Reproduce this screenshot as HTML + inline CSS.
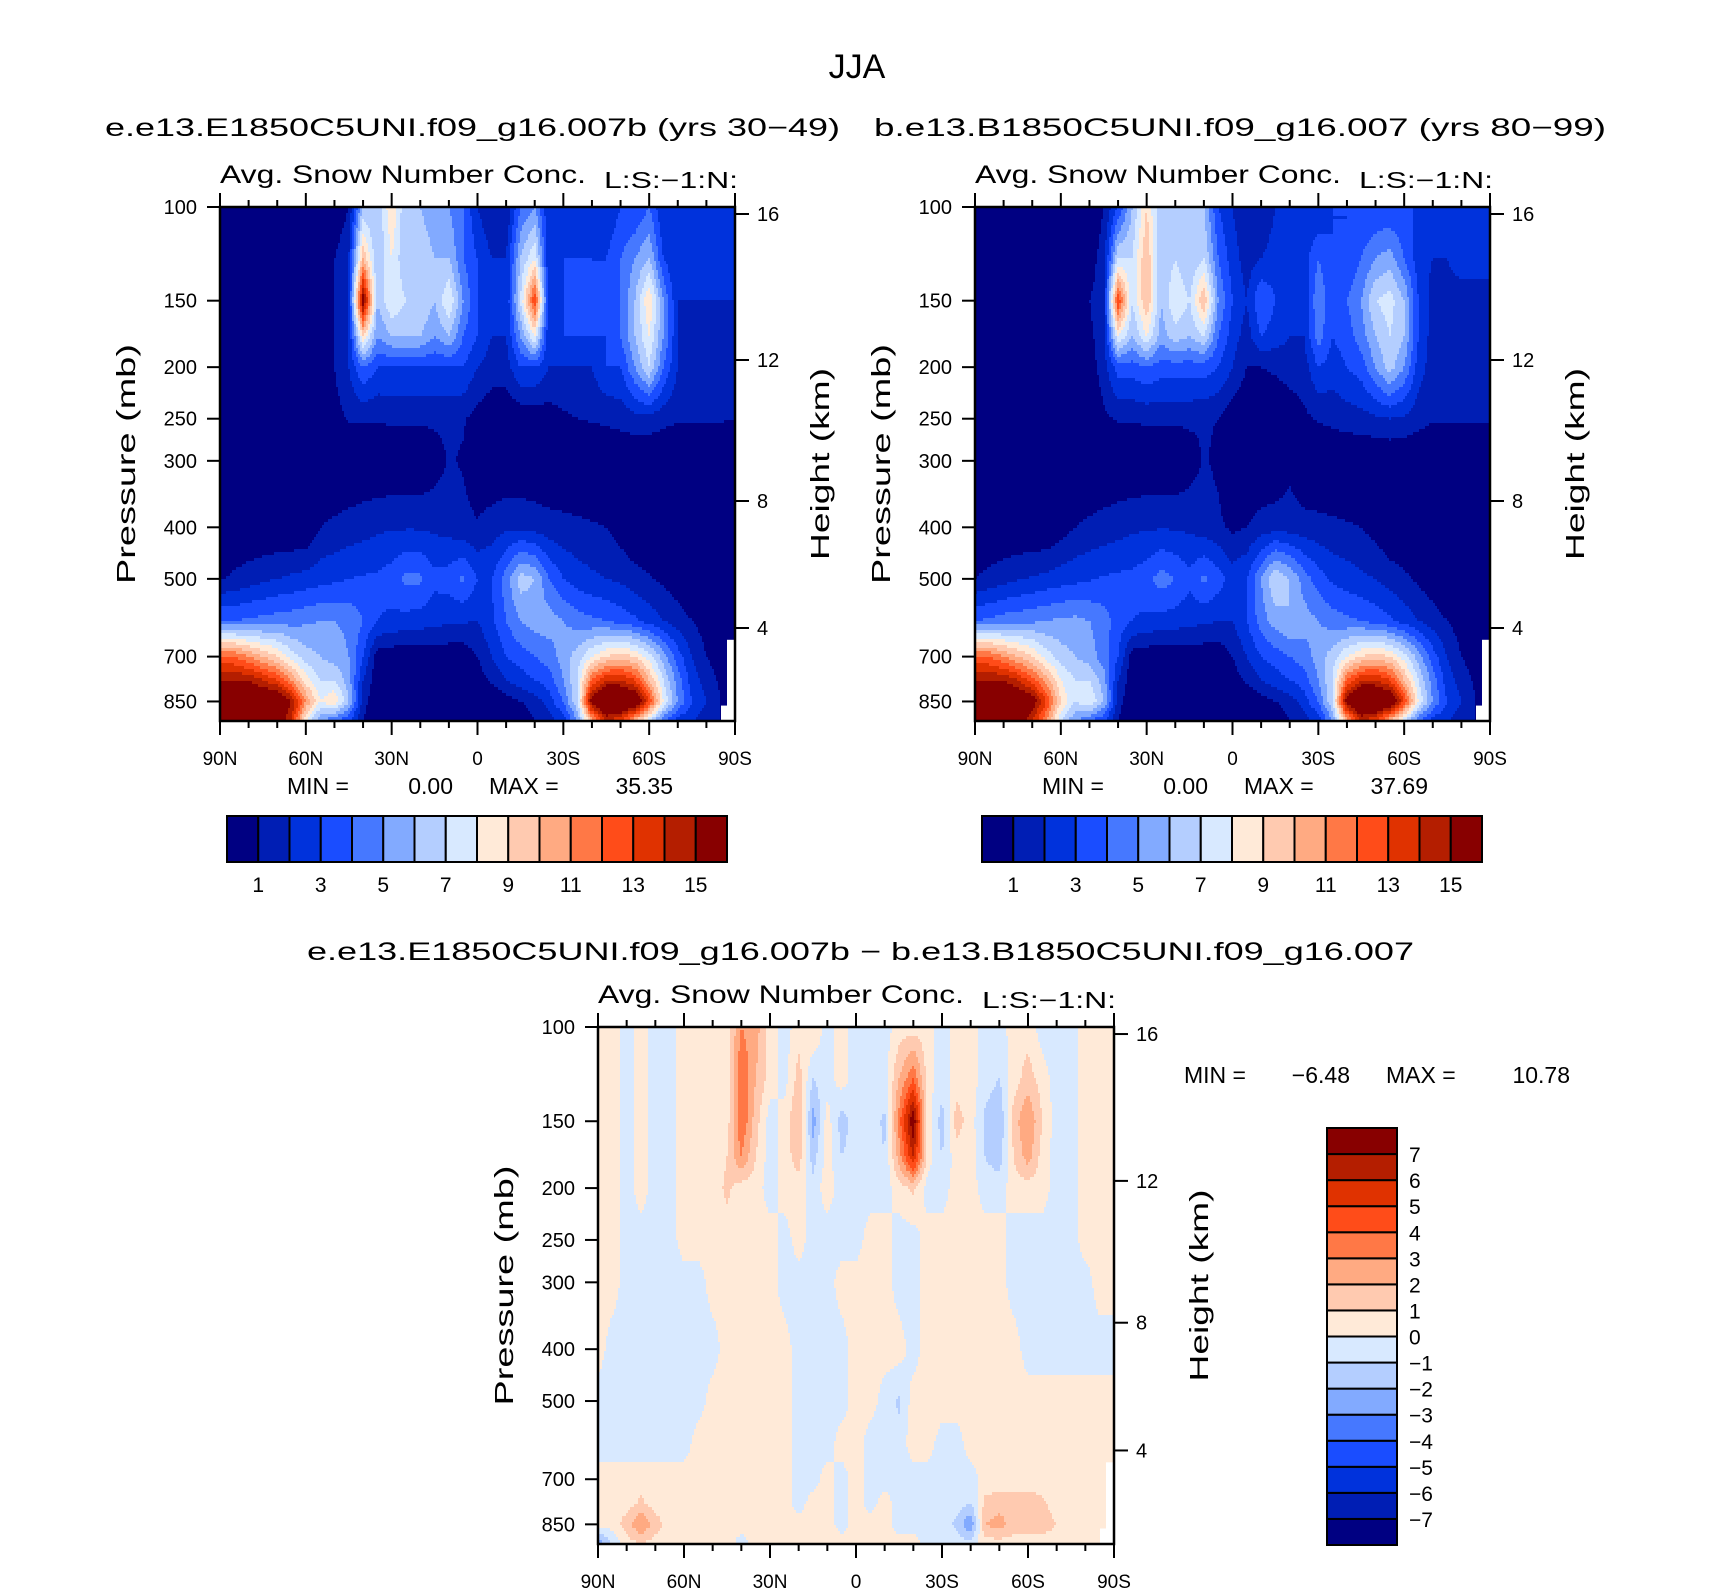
<!DOCTYPE html>
<html>
<head>
<meta charset="utf-8">
<style>
html,body{margin:0;padding:0;background:#fff;}
svg{display:block;}
text{font-family:"Liberation Sans",sans-serif;fill:#000;}
</style>
</head>
<body>
<svg id="fig" xmlns="http://www.w3.org/2000/svg" width="1710" height="1590" viewBox="0 0 1710 1590">
  <rect x="0" y="0" width="1710" height="1590" fill="#fff"/>
  <text x="857" y="78" font-size="34" text-anchor="middle">JJA</text>
  <text x="105" y="136" font-size="25" textLength="735" lengthAdjust="spacingAndGlyphs">e.e13.E1850C5UNI.f09_g16.007b (yrs 30−49)</text>
  <text x="874" y="136" font-size="25" textLength="732" lengthAdjust="spacingAndGlyphs">b.e13.B1850C5UNI.f09_g16.007 (yrs 80−99)</text>
  <text x="307" y="960" font-size="25" textLength="1107" lengthAdjust="spacingAndGlyphs">e.e13.E1850C5UNI.f09_g16.007b − b.e13.B1850C5UNI.f09_g16.007</text>
  <g id="layer"></g>
</svg>
<script>
// ---------- data ----------
const levels = [100,125,150,175,200,250,300,400,500,600,700,775,850,925];
const latLabels = ["90N","60N","30N","0","30S","60S","90S"];
const pressureTicks = [100,150,200,250,300,400,500,700,850];
const heightTicks = [16,12,8,4];
const palette = ["#000082","#001eb4","#0032dc","#1a4dff","#4678ff","#82aaff","#b4ceff","#d8e9ff","#ffead8","#ffcab0","#ffaa82","#ff7846","#ff4c19","#e03200","#b41e00","#880000"];
const topBarLabels = [1,3,5,7,9,11,13,15];
const diffBarLabels = [7,6,5,4,3,2,1,0,-1,-2,-3,-4,-5,-6,-7];

// fields: rows = levels, columns = latitude 90N..90S every 5 degrees
const leftField = [
 [0,0,0,0,0,0,0,0,0,1,6,6,9,6,6,5,5,4,2,1,1,4,5,2,2,2,2,2,3,3,4,2,2,2.5,3,3,3],
 [0,0,0,0,0,0,0,0,1,2,10,6,8,6,7,6,6,4,3,2,2,6,8,2,3,3,3,3,4,5,6,3,2,2,2.5,2.5,2.5],
 [0,0,0,0,0,0,0,0,1,2,16,6,8,7,7,6,8,5,3,2,2,7,13,2,3,4,3,3,4,6,9,5,2,2,2,2,2],
 [0,0,0,0,0,0,0,0,1,2,9,5,6,6,6,5,6,4,3,2,2,5,8,2,3,3,3,3,4,6,8,5,2,1.5,1.5,1.5,1.5],
 [0,0,0,0,0,0,0,0.5,1,2,4,3,3,3,3,3,3,3,2,1.5,1.5,3,3,2,2,2,2,3,3,5,7,4,2,1,1,1,1],
 [0,0,0,0,0,0,0,0,0.6,1.1,1.1,1.1,1.2,1.2,1.2,1.2,1.2,1.1,0.6,0.3,0.2,0.2,0.3,0.5,0.8,1,1.1,1.2,1.4,1.6,1.6,1.3,1.1,1.1,1.1,1.1,1],
 [0,0,0,0,0,0,0,0,0,0,0,0,0,0,0,0.5,1.1,0.9,0.3,0,0,0,0,0,0,0,0,0,0,0,0,0,0,0,0,0,0],
 [0,0,0,0,0,0,0,1,1.2,1.4,1.6,1.8,1.9,1.9,1.9,1.8,1.6,1.3,1.1,1.5,1.8,1.8,1.6,1.4,1.3,1.2,1.1,1,0.5,0,0,0,0,0,0,0,0],
 [0.9,1.2,1.5,1.8,2,2.2,2.4,2.6,2.8,3,3.1,3.2,3.5,4.3,4.2,3.3,3.5,4.2,3,3,4.5,6.5,6,4,3,2.5,2.2,2,1.8,1.4,1.1,0.8,0.4,0,0,0,0],
 [4,4,4.2,4.3,4.5,4.6,4.8,5,5,4.8,4,3,2.8,2.6,2.5,2.3,2.2,2.1,2,2.8,4,5,5.5,5.5,5,4.5,4.2,4,3.6,3.2,2.6,2,1.5,1,0.5,0.2,0],
 [12,12,11,10,9,7.5,6.5,6,5.5,5,3,0.5,0.3,0.3,0.3,0.3,0.3,0.3,1,2,3,3.5,4,4.5,5.5,6.5,8,9,9.5,9,7.5,5.5,3.5,2,1,0.5,0.5],
 [15,15,15,14,13,11,8.5,7,7,5.5,2,0.3,0.2,0.2,0.2,0.2,0.2,0.2,0.5,1.2,2,2.5,3,3.5,5,7,12,14,14,13,10,7,4.5,2.5,1.5,0.8,0.5],
 [17,17,17,17,17,15,11,8,9,6,1.5,0,0,0,0,0,0,0,0,0,0.5,1,1.5,2.5,4,7,16,18,18,17,13,8,5,3,2,1,0.5],
 [17,17,17,17,16,14,8,5,4,3,1,0,0,0,0,0,0,0,0,0,0,0,1,1.5,2.5,5,10,14,13,10,7,4,2.5,2,1.5,1,0.5]
];
const rightField = [
 [0,0,0,0,0,0,0,0,0,1,3,6,9,6,6,6,6,3,2,1,1,2,2,2,2,3,3,3,3,3,3,3,2.5,3,3,3,3],
 [0,0,0,0,0,0,0,0,0.5,1.5,7,7,10,6,7,6,7,4,2.5,1.5,2,2.5,2.5,2.5,4,3,3,4,5,5.5,4,2.5,2,2,2.5,2.5,2.5],
 [0,0,0,0,0,0,0,0,1,1.5,13,7,10,6,8,7,10,5,3,2,4,3,2,2,5,3,4,5,7,7.5,6,3,1.5,1.5,1.5,1.5,1.5],
 [0,0,0,0,0,0,0,0,0.8,1.5,8,6,8,5.5,6.5,6,7,4,2.5,1.5,3,2.5,2,2,4.5,3,3.5,4.5,6,7,6,3,1.5,1.5,1.5,1.5,1.5],
 [0,0,0,0,0,0,0,0,0.5,1.5,3.5,3.5,4,3.5,3.5,3.5,3.5,3,2,1,1,1.2,1.5,1.5,3,2.5,3,3.5,5,6.5,5,2.5,1.5,1.2,1.2,1.2,1.2],
 [0,0,0,0,0,0,0,0,0,0.8,1.1,1.1,1.2,1.2,1.2,1.2,1.1,1,0.4,0.1,0,0,0.3,0.8,1.1,1.3,1.5,1.6,1.8,2,1.8,1.4,1.1,1.1,1.1,1.1,1.1],
 [0,0,0,0,0,0,0,0,0,0,0,0,0,0,0,0.5,1.1,0.8,0,0,0,0,0.7,0,0,0,0,0,0,0,0,0,0,0,0,0,0],
 [0,0,0,0,0,0,0.5,1,1.2,1.4,1.6,1.8,1.9,1.9,1.9,1.8,1.5,1.2,0.8,1,1.4,1.6,1.5,1.4,1.3,1.2,1.1,1,0.6,0,0,0,0,0,0,0,0],
 [1,1.3,1.6,1.9,2.1,2.3,2.5,2.7,2.9,3.1,3.2,3.3,3.6,4.5,4,3.3,4.2,3.5,2.5,3,5,7,6,4.5,3.5,2.8,2.5,2.2,2,1.6,1.2,0.8,0.4,0,0,0,0],
 [4,4.2,4.5,4.6,4.8,5,5.2,5.3,5,4.5,3.5,3,2.8,2.6,2.5,2.3,2.2,2,2,3,4.5,5.5,6,5.5,5,4.5,4.2,4,3.6,3.2,2.6,2,1.5,1,0.5,0.2,0],
 [12,12,11,10,9,7.5,6.5,6,5.5,4.5,3,0.5,0.3,0.3,0.3,0.3,0.3,0.3,1,2,3,3.5,4,4.5,5.5,6.5,8,9,9.5,9,7.5,5.5,3.5,2,1,0.5,0.5],
 [15,15,15,14,12.5,10.5,8,7,7,5.5,2,0.3,0.2,0.2,0.2,0.2,0.2,0.2,0.5,1.2,2,2.5,3,3.5,5,7,12,14,14,13,10,7,4.5,2.5,1.5,0.8,0.5],
 [17,17,17,17,16,13,9,7,8,6,1.5,0,0,0,0,0,0,0,0,0,0.5,1,1.5,2.5,4,7,16,18,18,17,13,8,5,3,2,1,0.5],
 [17,17,17,16,14,11,7,5,4,3,1,0,0,0,0,0,0,0,0,0,0,0,1,1.5,2.5,5,10,14,13,10,7,4,2.5,2,1.5,1,0.5]
];
const diffField = [
 [.5,.5,-.5,.5,-.5,-.5,.5,.5,.5,.5,3,2.5,.5,-.5,.5,1,-.5,.5,-.5,-.5,-.5,.5,.5,.5,-.5,.5,.5,-.5,-.5,.5,.5,-.5,-.5,-.5,.5,.5,1],
 [.5,.5,-.5,.5,-.5,-.5,.5,.5,.5,.5,4,2,.5,-.5,1.5,-1,-.5,.5,-.5,-.5,-.5,2,4,.5,-.5,.5,.5,-.5,-1,.5,1.5,.5,-.5,-.5,.5,.5,.5],
 [.5,.5,-.5,.5,-.5,-.5,.5,.5,.5,.5,4,1.5,-.5,.5,2,-2.5,.5,-1.5,-.5,-.5,-1.2,3.5,8,.5,-1.5,1.5,.5,-1.2,-2,1.5,3,1,-.5,-.5,.5,.5,.5],
 [.5,.5,-.5,.5,-.5,-.5,.5,.5,.5,1,3,1,-.5,.5,1.5,-1.5,.5,-1,-.5,-.5,-1,2.5,6,.5,-1,.5,.5,-1,-1.5,1,2.5,.5,-.5,-.5,.5,.5,.5],
 [.5,.5,-.5,.5,-.5,-.5,.5,.5,.5,1.2,.5,.5,-.5,.5,.5,-.5,.5,-.5,-.5,-.5,-.5,.5,1.2,-.5,-.5,.5,.5,-.5,-.5,.5,.5,.5,-.5,-.5,.5,.5,.5],
 [.5,.5,-.5,-.5,-.5,-.5,.5,.5,.5,.5,.5,.5,.5,-.5,.5,-.5,-.5,-.5,-.5,.5,.5,-.5,-.5,.5,.5,.5,.5,.5,.5,-.5,-.5,-.5,-.5,-.5,.5,.5,.5],
 [.5,.5,-.5,-.5,-.5,-.5,-.5,-.5,.5,.5,.5,.5,.5,-.5,-.5,-.5,-.5,.5,.5,.5,.5,-.5,-.5,.5,.5,.5,.5,.5,.5,-.5,-.5,-.5,-.5,-.5,-.5,.5,.5],
 [.5,-.5,-.5,-.5,-.5,-.5,-.5,-.5,-.5,.5,.5,.5,.5,.5,-.5,-.5,-.5,-.5,.5,.5,.5,.5,-.5,.5,.5,.5,.5,.5,.5,.5,-.5,-.5,-.5,-.5,-.5,-.5,-.5],
 [-.5,-.5,-.5,-.5,-.5,-.5,-.5,-.5,.5,.5,.5,.5,.5,.5,-.5,-.5,-.5,-.5,.5,.5,-.5,-1.2,.5,.5,.5,.5,.5,.5,.5,.5,.5,.5,.5,.5,.5,.5,.5],
 [-.5,-.5,-.5,-.5,-.5,-.5,-.5,.5,.5,.5,.5,.5,.5,.5,-.5,-.5,-.5,.5,.5,-.5,-.5,-.5,.5,.5,-.5,-.5,.5,.5,.5,.5,.5,.5,.5,.5,.5,.5,.5],
 [.5,.5,.5,.5,.5,.5,.5,.5,.5,.5,.5,.5,.5,.5,-.5,-.5,.5,-.5,.5,-.5,-.5,-.5,-.5,-.5,-.5,-.5,-.5,.5,.5,.5,.5,.5,.5,.5,.5,.5,.5],
 [.5,.5,.5,1.2,.5,.5,.5,.5,.5,.5,.5,.5,.5,.5,-.5,.5,.5,-.5,.5,-.5,.5,-.5,-.5,-.5,-.5,-.5,-1,1.2,1.5,1.5,1.5,1.2,.5,.5,.5,.5,.5],
 [.5,.5,1.5,3,1.5,.5,.5,.5,.5,.5,.5,.5,.5,.5,.5,.5,.5,-.5,.5,.5,.5,-.5,-.5,-.5,-.5,-1.2,-3,2,2.5,1.5,1.5,1.5,1,.5,.5,.5,.5],
 [-3,-1,.5,1,.5,.5,.5,.5,.5,.5,-.5,.5,.5,.5,.5,.5,.5,.5,.5,.5,.5,.5,.5,-.5,-.5,-.5,-.5,.5,.5,.5,.5,.5,.5,.5,.5,.5,.5]
];
const leftStats = ["0.00","35.35"];
const rightStats = ["0.00","37.69"];
const diffStats = ["−6.48","10.78"];

// ---------- drawing ----------
const NS = "http://www.w3.org/2000/svg";
const layer = document.getElementById("layer");
function mk(tag, attrs, parent, txt){
  const e = document.createElementNS(NS, tag);
  for (const k in attrs) e.setAttribute(k, attrs[k]);
  if (txt !== undefined) e.textContent = txt;
  (parent || layer).appendChild(e);
  return e;
}
const lnTop = Math.log(100), lnSpan = Math.log(925/100);
const lnLev = levels.map(Math.log);
function yOfP(P, p){ return P.y + (Math.log(p) - lnTop) / lnSpan * P.h; }
function xOfLat(P, f){ return P.x + f * P.w; }
function sample(field, k, t, f){
  let i = Math.max(0, Math.min(35, Math.floor(f))); const u = f - i;
  const a = (1-u)*field[k][i] + u*field[k][i+1];
  const b = (1-u)*field[k+1][i] + u*field[k+1][i+1];
  return (1-t)*a + t*b;
}
function cellRect(g, P, x0, x1, y, hh, c){
  const r = mk("rect", {x: P.x + x0, y: P.y + y, width: x1 - x0 + 0.6, height: hh + 0.6, fill: palette[c]}, g);
  
  
}
function drawField(P, field, offset, name){
  const g = mk("g", {"shape-rendering":"crispEdges"});
  
  
  for (let y = 0; y < P.h; y += 3){
    const hh = Math.min(3, P.h - y);
    const lp = lnTop + (y + hh/2) / P.h * lnSpan;
    let k = 0;
    while (k < lnLev.length - 2 && lp > lnLev[k+1]) k++;
    const t = Math.max(0, Math.min(1, (lp - lnLev[k]) / (lnLev[k+1] - lnLev[k])));
    let runStart = 0, runC = -1;
    for (let x = 0; x < P.w; x += 2){
      const v = sample(field, k, t, (x + 1) / P.w * 36);
      const c = Math.max(0, Math.min(15, Math.floor(v + offset)));
      if (c !== runC){
        if (runC >= 0) cellRect(g, P, runStart, x, y, hh, runC);
        runStart = x; runC = c;
      }
    }
    if (runC >= 0) cellRect(g, P, runStart, P.w, y, hh, runC);
  }
  const m1 = mk("rect", {x: P.x + P.w - 8, y: P.y + P.h*0.842, width: 8, height: P.h*0.158, fill: "#fff"});
  
  
  const m2 = mk("rect", {x: P.x + P.w - 14, y: P.y + P.h*0.97, width: 14, height: P.h*0.03, fill: "#fff"});
  
  
}
function drawAxes(P, pref){
  const g = mk("g", {});
  
  
  const frame = mk("rect", {x: P.x, y: P.y, width: P.w, height: P.h, fill: "none", stroke: "#000", "stroke-width": 2.5}, g);
  
  
  for (let d = 0; d <= 180; d += 10){
    const x = xOfLat(P, d/180);
    const len = d % 30 === 0 ? 14 : 7;
    const t1 = mk("line", {x1: x, x2: x, y1: P.y, y2: P.y - len, stroke: "#000", "stroke-width": 2}, g);
    
    
    const t2 = mk("line", {x1: x, x2: x, y1: P.y + P.h, y2: P.y + P.h + len, stroke: "#000", "stroke-width": 2}, g);
    
    
  }
  latLabels.forEach((lab, i) => {
    const tl = mk("text", {x: xOfLat(P, i/6), y: P.y + P.h + 44, "font-size": 19, "text-anchor": "middle"}, g, lab);
    
    
  });
  pressureTicks.forEach(p => {
    const y = yOfP(P, p);
    const tk = mk("line", {x1: P.x, x2: P.x - 13, y1: y, y2: y, stroke: "#000", "stroke-width": 2}, g);
    
    
    const tl = mk("text", {x: P.x - 23, y: y + 7, "font-size": 20, "text-anchor": "end"}, g, String(p));
    
    
  });
  const hOff = [7, 153, 294, 421];
  heightTicks.forEach((h, i) => {
    const y = P.y + hOff[i] * P.h / 514;
    const tk = mk("line", {x1: P.x + P.w, x2: P.x + P.w + 14, y1: y, y2: y, stroke: "#000", "stroke-width": 2}, g);
    
    
    const tl = mk("text", {x: P.x + P.w + 22, y: y + 7, "font-size": 20}, g, String(h));
    
    
  });
  const cy = P.y + P.h/2;
  const pt = mk("text", {x: 0, y: 0, "font-size": 26, "text-anchor": "middle", textLength: 240, lengthAdjust: "spacingAndGlyphs", transform: `translate(${P.x - 85},${cy}) rotate(-90)`}, g, "Pressure (mb)");
  
  
  const ht = mk("text", {x: 0, y: 0, "font-size": 26, "text-anchor": "middle", textLength: 192, lengthAdjust: "spacingAndGlyphs", transform: `translate(${P.x + P.w + 94},${cy}) rotate(-90)`}, g, "Height (km)");
  
  
  const at = mk("text", {x: P.x, y: P.y - 24, "font-size": 25, textLength: 366, lengthAdjust: "spacingAndGlyphs"}, g, "Avg. Snow Number Conc.");
  
  
  const ls = mk("text", {x: P.x + 384, y: P.y - 19, "font-size": 23, textLength: 134, lengthAdjust: "spacingAndGlyphs"}, g, "L:S:−1:N:");
  
  
}
function drawStats(x0, y, stats, pref){
  const parts = [["MIN =", 0, "start"], [stats[0], 166, "end"], ["MAX =", 202, "start"], [stats[1], 386, "end"]];
  parts.forEach(pt => {
    const t = mk("text", {x: x0 + pt[1], y: y, "font-size": 23, "text-anchor": pt[2]}, layer, pt[0]);
    
    
  });
}
function drawHBar(x0, y0, w, h, pref){
  const g = mk("g", {});
  
  
  const bw = w / 16;
  palette.forEach((c, i) => {
    const r = mk("rect", {x: x0 + i*bw, y: y0, width: bw, height: h, fill: c, stroke: "#000", "stroke-width": 2}, g);
    
    
  });
  topBarLabels.forEach(v => {
    const t = mk("text", {x: x0 + v*bw, y: y0 + h + 30, "font-size": 21, "text-anchor": "middle"}, g, String(v));
    
    
  });
}
function drawVBar(x0, y0, w, h){
  const g = mk("g", {});
  
  
  const bh = h / 16;
  palette.forEach((c, i) => {
    const r = mk("rect", {x: x0, y: y0 + (15 - i)*bh, width: w, height: bh, fill: c, stroke: "#000", "stroke-width": 2}, g);
    
    
  });
  diffBarLabels.forEach(v => {
    const t = mk("text", {x: x0 + w + 12, y: y0 + (8 - v)*bh + 8, "font-size": 21}, g, String(v).replace("-", "−"));
    
    
  });
}

const PL = {x: 220, y: 207, w: 515, h: 514};
const PR = {x: 975, y: 207, w: 515, h: 514};
const PD = {x: 598, y: 1027, w: 516, h: 517};

drawField(PL, leftField, 0, 'left-contour-field');
drawField(PR, rightField, 0, 'right-contour-field');
drawField(PD, diffField, 8, 'difference-contour-field');
drawAxes(PL, 'left');
drawAxes(PR, 'right');
drawAxes(PD, 'difference');
drawStats(287, 794, leftStats, 'left');
drawStats(1042, 794, rightStats, 'right');
drawStats(1184, 1083, diffStats, 'difference');
drawHBar(227, 816, 500, 46, 'left');
drawHBar(982, 816, 500, 46, 'right');
drawVBar(1327, 1128, 70, 417);
</script>
</body>
</html>
